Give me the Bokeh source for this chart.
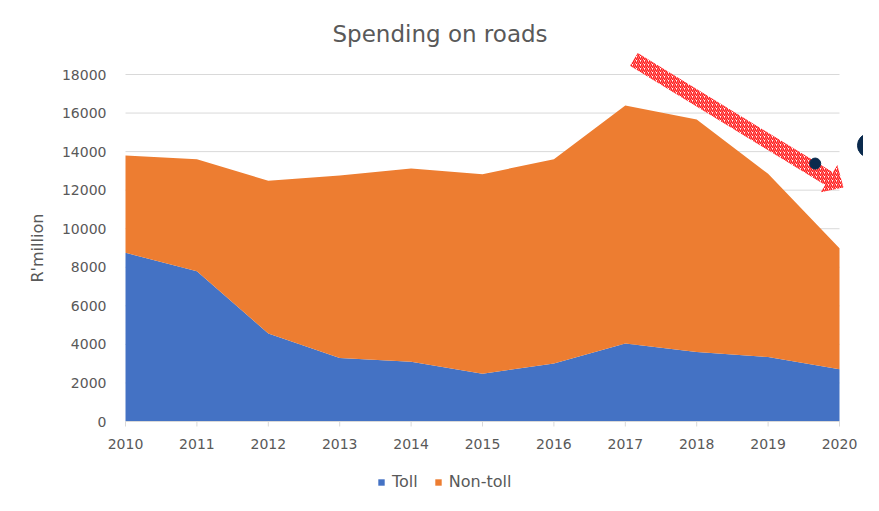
import math
from bokeh.plotting import figure
from bokeh.models import ColumnDataSource, Range1d, FixedTicker, Title
from bokeh.core.properties import value
from bokeh.embed import file_html
from bokeh.resources import INLINE

# ---- data ----
years = [2010, 2011, 2012, 2013, 2014, 2015, 2016, 2017, 2018, 2019, 2020]
toll = [8750, 7800, 4560, 3300, 3100, 2480, 3010, 4050, 3600, 3340, 2710]
non_toll = [5050, 5800, 7930, 9460, 10020, 10350, 10590, 12340, 12070, 9510, 6280]
y_ticks = [0, 2000, 4000, 6000, 8000, 10000, 12000, 14000, 16000, 18000]
x_tick_labels = [str(y) for y in years]
series_names = ["Toll", "Non-toll"]
title_text = "Spending on roads"
y_label = "R'million"

# annotation (trend arrow and markers), in data units
arrow_start = (2017.12, 18780)
arrow_end = (2020.056, 12140)
dot_small = (2019.66, 13380)
dot_big = (2020.42, 14320)

# ---- layout ----
W, H = 863, 495
LEFT, RIGHT, TOP, BOTTOM = 107, 0, 46, 0
X0_PX = 125                      # pixel column of the first year
ZERO_Y = 421                     # pixel row of value 0
frame_w = W - LEFT - RIGHT
frame_h = H - TOP - BOTTOM
PX_PER_YEAR = 71.4
PX_PER_UNIT = 347 / 18000
x_start = years[0] - (X0_PX - LEFT) / PX_PER_YEAR
x_end = years[0] + (W - RIGHT - X0_PX) / PX_PER_YEAR
y_end = (ZERO_Y - TOP) / PX_PER_UNIT
y_start = -(H - BOTTOM - ZERO_Y) / PX_PER_UNIT

TEXT = "#595959"
GRID = "#d9d9d9"
BLUE = "#4472C4"
ORANGE = "#ED7D31"
NAVY = "#0a2a4d"
FONT = "DejaVu Sans"

p = figure(width=W, height=H, output_backend="svg", toolbar_location=None,
           x_range=Range1d(x_start, x_end), y_range=Range1d(y_start, y_end),
           x_axis_location=None,
           min_border_left=LEFT, min_border_right=RIGHT,
           min_border_top=TOP, min_border_bottom=BOTTOM,
           title=title_text)
p.outline_line_color = None
p.background_fill_color = "white"
p.border_fill_color = "white"
p.xgrid.visible = False
p.ygrid.visible = False

p.title.align = "left"
p.title.offset = 125 - LEFT + 207
p.title.text_font = FONT
p.title.text_font_size = "23px"
p.title.text_font_style = "normal"
p.title.text_color = TEXT
p.title.vertical_align = "bottom"
p.title.standoff = 0

# gridlines (only across the data span)
p.segment(x0=[years[0]] * (len(y_ticks) - 1), x1=[years[-1]] * (len(y_ticks) - 1),
          y0=y_ticks[1:], y1=y_ticks[1:], line_color=GRID, line_width=1)

src = ColumnDataSource(dict(year=years, toll=toll, non_toll=non_toll,
                            label=x_tick_labels, zero=[0] * len(years),
                            tick_end=[-5 / PX_PER_UNIT] * len(years)))
areas = p.varea_stack(["toll", "non_toll"], x="year", source=src,
                      color=[BLUE, ORANGE], legend_label=series_names)

# category axis along value 0: baseline, ticks and year labels
p.segment(x0=[years[0]], x1=[years[-1]], y0=[0], y1=[0], line_color=GRID, line_width=1)
p.segment(x0="year", x1="year", y0="zero", y1="tick_end", source=src,
          line_color=GRID, line_width=1)
p.text(x="year", y="zero", text="label", source=src, y_offset=22,
       text_align="center", text_baseline="middle", text_font=value(FONT),
       text_font_size="14px", text_color=TEXT)

# value axis
ya = p.yaxis[0]
ya.ticker = FixedTicker(ticks=y_ticks)
ya.axis_line_color = None
ya.major_tick_line_color = None
ya.major_tick_out = 0
ya.major_tick_in = 0
ya.minor_tick_line_color = None
ya.major_label_standoff = 1
ya.major_label_text_font = FONT
ya.major_label_text_font_size = "14px"
ya.major_label_text_color = TEXT

p.add_layout(Title(text=y_label, align="left", offset=213, vertical_align="middle",
                   standoff=21, text_font=FONT, text_font_size="16px",
                   text_font_style="normal", text_color=TEXT), "left")

# hatched block arrow (built in pixel space, converted to data units)
sx0, sy0 = arrow_start[0] * PX_PER_YEAR, arrow_start[1] * PX_PER_UNIT
sx1, sy1 = arrow_end[0] * PX_PER_YEAR, arrow_end[1] * PX_PER_UNIT
dx, dy = sx1 - sx0, sy1 - sy0
L = math.hypot(dx, dy)
ux, uy = dx / L, dy / L
nx, ny = -uy, ux
shaft, head_w, head_l = 7.5, 16, 17
bx, by = sx1 - ux * head_l, sy1 - uy * head_l
pts = [
    (sx0 + nx * shaft, sy0 + ny * shaft),
    (bx + nx * shaft, by + ny * shaft),
    (bx + nx * head_w, by + ny * head_w),
    (sx1, sy1),
    (bx - nx * head_w, by - ny * head_w),
    (bx - nx * shaft, by - ny * shaft),
    (sx0 - nx * shaft, sy0 - ny * shaft),
]
p.patch([q[0] / PX_PER_YEAR for q in pts], [q[1] / PX_PER_UNIT for q in pts],
        fill_color="white", fill_alpha=1.0, line_color=None,
        hatch_pattern="/", hatch_color="#ff1a1a", hatch_scale=4, hatch_weight=1.5)

p.scatter([dot_small[0]], [dot_small[1]], size=11, color=NAVY)
p.scatter([dot_big[0]], [dot_big[1]], size=24, color=NAVY)

lg = p.legend[0]
lg.orientation = "horizontal"
lg.location = (377 - LEFT, 4)
lg.border_line_color = None
lg.background_fill_alpha = 0
lg.padding = 0
lg.margin = 0
lg.spacing = 16
lg.glyph_width = 8
lg.glyph_height = 8
lg.label_height = 16
lg.label_standoff = 7
lg.label_text_font = FONT
lg.label_text_font_size = "16px"
lg.label_text_color = TEXT

open("out.html", "w").write(file_html(p, INLINE))
